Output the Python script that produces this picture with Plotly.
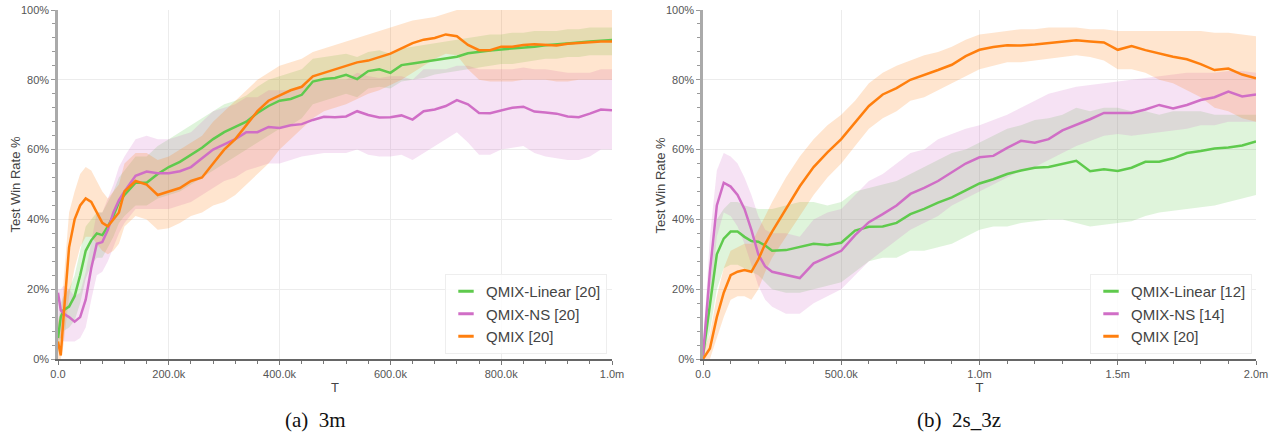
import plotly.graph_objects as go

# ---------------- data: 3m (T in thousands, win rate in %) ----------------
T_3M_K = [0, 5, 10, 20, 30, 40, 50, 60, 70, 80, 90, 100, 110, 120,
          140, 160, 180, 200, 220, 240, 260, 280, 300, 320, 340, 360, 380, 400,
          420, 440, 460, 480, 500, 520, 540, 560, 580, 600, 620, 640, 660, 680,
          700, 720, 740, 760, 780, 800, 820, 840, 860, 880, 900, 920, 940, 960,
          980, 1000]

LIN_3M = [6, 12, 14, 15, 18, 24, 31, 34, 36, 35.5, 38, 41, 45, 47,
          50.5, 50.5, 53, 55, 56.5, 58.5, 60.5, 63, 65, 66.5, 68, 70.5, 72.5, 74,
          74.5, 75.7, 79.5, 80.2, 80.5, 81.4, 80.2, 82.5, 83, 82, 84.2, 84.7, 85.2, 85.7,
          86, 86.6, 87.6, 88.1, 88.4, 88.7, 88.9, 89.3, 89.5, 89.9, 90.1, 90.4, 90.7, 91,
          91.2, 91.4]
LIN_3M_LO = [2, 6, 8, 9, 11, 16, 23, 27, 29, 29, 32, 35, 39, 41,
             44, 44, 46, 47, 48, 50, 52, 54, 56, 58, 60, 62, 64, 66,
             67, 69, 73, 74, 75, 76, 75, 77.5, 78, 77.5, 79.5, 80, 80.5, 81.5,
             82, 82.5, 83, 83.5, 84, 84.5, 84.5, 85, 85.5, 86, 86, 86.5, 86.5, 87,
             87, 87]
LIN_3M_HI = [10, 16, 18, 20, 24, 31, 38, 40, 42, 42, 45, 48, 52, 54,
             58, 58, 61, 63, 65, 67, 69, 71, 73, 74, 75.5, 78, 80, 81,
             82, 83, 86, 86.5, 87, 87.5, 86.5, 88, 88.5, 87.5, 89, 89.5, 90, 90.5,
             91, 91.5, 92, 92.5, 93, 93, 93.5, 93.5, 94, 94, 94, 94.5, 94.5, 95,
             95, 95]

NS_3M = [19, 14, 13, 12, 10.7, 12, 17, 26, 33, 33.5, 37, 42, 45.5, 48,
         52.5, 53.7, 53.2, 53.2, 53.8, 55, 57.5, 60, 61.5, 63, 65, 65, 66.5, 66.2,
         67, 67.3, 68.5, 69.4, 69.3, 69.5, 71, 69.9, 69.2, 69.3, 69.8, 68.6, 71, 71.5,
         72.5, 74.2, 73, 70.5, 70.4, 71.3, 72, 72.3, 70.9, 70.6, 70.3, 69.5, 69.3, 70.3,
         71.5, 71.3]
NS_3M_LO = [5, 6, 5, 5, 5, 6, 9, 17, 24, 25, 28, 32, 36, 39,
            43, 43, 43, 43, 44, 45, 47, 49, 51, 52, 54, 55, 56, 56,
            57, 58, 58.5, 59, 59, 59, 60, 58.5, 58, 58, 58.5, 57, 59, 61,
            63, 65, 62, 58.5, 58.5, 60, 60.5, 61, 59, 58, 57.5, 57, 57, 58,
            60, 60]
NS_3M_HI = [20, 20, 21, 20, 18, 19, 25, 34, 42, 42, 46, 50, 55, 58,
            63, 64, 63, 63, 64, 65, 68, 71, 72, 73, 75, 75, 77, 77,
            77, 78, 79, 80, 80, 80, 82, 81, 80.5, 81, 81, 80, 83, 83,
            83, 84, 84, 83, 83, 83, 83, 83.5, 83, 83, 82.5, 82, 82, 82,
            83, 83]

QMIX_3M = [5, 1, 12, 32, 40, 44, 46, 45, 42, 39, 38, 40, 42, 48,
           51, 50, 47, 48, 49, 51, 52, 56, 60, 63, 67, 71, 74, 75.5,
           77, 78, 81, 82, 83, 84, 85, 85.5, 86.5, 87.5, 89, 90.5, 91.5, 92,
           93, 92.5, 90, 88.5, 88.5, 89.5, 89.5, 90, 90.2, 90, 89.8, 90.3, 90.6, 90.8,
           91, 91]
QMIX_3M_LO = [0, 0, 4, 18, 26, 32, 35, 35, 33, 31, 30, 31, 33, 38,
              41, 40, 37, 37.5, 39, 41, 42, 44, 45, 47, 50, 53, 56, 60,
              63, 66, 69, 71, 72, 73, 74.5, 76, 77, 78.5, 80, 82, 84, 86,
              87.5, 87, 83, 80, 79.5, 79.5, 79.5, 80, 80, 80, 79.5, 79.5, 80, 80,
              80, 80]
QMIX_3M_HI = [12, 8, 22, 42, 48, 53, 55, 54, 51, 48, 46, 48, 50, 56,
              59, 59, 57, 58, 60, 62, 64, 68, 71, 74, 77, 80, 82, 84,
              85, 86, 88, 89, 90, 91, 92, 93, 94, 95, 96, 97, 97.5, 98,
              99, 100, 100, 100, 100, 100, 100, 100, 100, 100, 100, 100, 100, 100,
              100, 100]

# ---------------- data: 2s_3z ----------------
T_2S3Z_K = [0, 25, 50, 75, 100, 125, 150, 175, 200, 225, 250,
            300, 350, 400, 450, 500, 550, 600, 650, 700, 750, 800, 850, 900, 950,
            1000, 1050, 1100, 1150, 1200, 1250, 1300, 1350, 1400, 1450, 1500, 1550,
            1600, 1650, 1700, 1750, 1800, 1850, 1900, 1950, 2000]

LIN_2S3Z = [1, 15, 30, 34.5, 36.5, 36.5, 35, 33.8, 33.6, 32.5, 31,
            31.2, 32.2, 33, 32.7, 33.3, 36.8, 37.9, 38, 39, 41.5, 43, 44.8, 46.3, 48.3,
            50.3, 51.5, 53, 54, 54.8, 55, 56, 56.8, 53.8, 54.4, 53.9, 54.8,
            56.5, 56.5, 57.5, 59, 59.6, 60.3, 60.6, 61.2, 62.3]
LIN_2S3Z_LO = [0, 8, 20, 26, 27, 27, 26, 25, 24, 22, 20,
               19, 19, 20, 21, 22, 25, 28, 29, 29, 31, 31, 32, 33, 35,
               37, 38, 38, 39, 39.5, 40, 40, 39, 38, 38.5, 39, 39.5,
               41, 42, 42.5, 43, 43.5, 44, 45, 46, 47]
LIN_2S3Z_HI = [3, 22, 40, 43, 45, 45, 44, 43.5, 43, 43, 43,
               44, 45, 45, 44, 45, 48, 49, 50, 51, 53, 55, 57, 59, 60,
               62, 64, 66, 67, 68.5, 69, 70, 72, 71, 72, 72, 71,
               71, 70, 71, 71, 71, 70, 70, 70, 70]

NS_2S3Z = [1, 25, 44, 50.5, 49.4, 47, 43, 37, 30, 26.5, 25,
           24.1, 23.2, 27.4, 29.3, 31, 35.5, 39.2, 41.5, 44, 47.3, 49, 51, 53.5, 56,
           57.8, 58.2, 60.5, 62.5, 62, 63, 65.5, 67, 68.7, 70.5, 70.6, 70.5,
           71.5, 72.8, 71.8, 72.8, 74.2, 75, 76.6, 75.2, 75.8]
NS_2S3Z_LO = [0, 15, 35, 42, 41, 38, 33, 27, 21, 17, 15,
              13, 13, 16, 18, 20, 24, 28, 31, 34, 37, 39, 41, 44, 46,
              48, 50, 52, 54, 55, 57, 59, 61, 62.5, 64, 64.5, 64,
              64.5, 65, 65.5, 66, 67, 67, 68, 68, 68]
NS_2S3Z_HI = [3, 35, 54, 59, 58, 56, 52, 47, 41, 37, 36,
              36, 35, 40, 42, 43, 47, 51, 53, 56, 59, 60, 63, 64.5, 66,
              67, 68.5, 70, 72, 74, 76, 77, 78, 78.5, 79, 79.5, 80,
              80.5, 81, 81.5, 82, 82, 82, 82.5, 82.5, 82]

QMIX_2S3Z = [0, 3, 12, 19, 24, 25, 25.5, 25, 28.5, 33, 36.5,
             43, 49.5, 55, 59.2, 63, 67.8, 72.5, 75.8, 77.6, 80, 81.3, 82.8, 84.3, 86.8,
             88.6, 89.4, 89.9, 89.8, 90.1, 90.5, 91, 91.3, 91, 90.7, 88.6, 89.7,
             88.5, 87.5, 86.6, 85.9, 84.5, 82.8, 83.2, 81.5, 80.4]
QMIX_2S3Z_LO = [0, 0, 6, 12, 17, 18, 18, 17, 20, 25, 29,
                35, 41, 47, 52, 56, 61, 66, 69, 71, 74, 75, 77, 79, 81,
                83, 84, 85, 85, 85.5, 86, 86.5, 87, 86.5, 85.5, 83, 83,
                82, 80, 79, 77, 75, 72, 71, 69, 68]
QMIX_2S3Z_HI = [2, 7, 18, 26, 31, 32, 33, 33, 37, 41, 45,
                52, 58, 63, 67, 70, 74, 79, 82, 84, 85.5, 87, 88, 89.5, 91.5,
                93, 93.5, 94, 94.5, 94.5, 95, 95, 95, 94.5, 94.5, 94, 94,
                94, 94, 94, 94, 94, 93.5, 93.5, 93, 92.5]

X_TICKS_3M = [0, 200000, 400000, 600000, 800000, 1000000]
X_TEXT_3M = ["0.0", "200.0k", "400.0k", "600.0k", "800.0k", "1.0m"]
X_TICKS_2S3Z = [0, 500000, 1000000, 1500000, 2000000]
X_TEXT_2S3Z = ["0.0", "500.0k", "1.0m", "1.5m", "2.0m"]
Y_TICKS = [0, 20, 40, 60, 80, 100]
Y_TEXT = ["0%", "20%", "40%", "60%", "80%", "100%"]

LEGEND_3M = ["QMIX-Linear [20]", "QMIX-NS [20]", "QMIX [20]"]
LEGEND_2S3Z = ["QMIX-Linear [12]", "QMIX-NS [14]", "QMIX [20]"]
CAPTIONS = ["(a)\u00a0\u00a03m", "(b)\u00a0\u00a02s_3z"]
Y_TITLE = "Test Win Rate %"
X_TITLE = "T"

# ---------------- styling ----------------
COLORS = ["#5fca4d", "#d06ec6", "#ff7f0e"]
FILLS = ["rgba(95,202,77,0.2)", "rgba(208,110,198,0.2)", "rgba(255,127,14,0.2)"]
FONT = "Liberation Sans, Arial, sans-serif"

W, H = 1274, 435


def fx(px):
    return px / W


def fy(py):
    return 1 - py / H


DOMAINS_X = [(fx(58), fx(612)), (fx(703), fx(1256))]
DOMAIN_Y = (fy(359), fy(10))

fig = go.Figure()

panels = [
    (T_3M_K, [(LIN_3M, LIN_3M_LO, LIN_3M_HI), (NS_3M, NS_3M_LO, NS_3M_HI),
              (QMIX_3M, QMIX_3M_LO, QMIX_3M_HI)], LEGEND_3M),
    (T_2S3Z_K, [(LIN_2S3Z, LIN_2S3Z_LO, LIN_2S3Z_HI), (NS_2S3Z, NS_2S3Z_LO, NS_2S3Z_HI),
                (QMIX_2S3Z, QMIX_2S3Z_LO, QMIX_2S3Z_HI)], LEGEND_2S3Z),
]

for p, (tk, series, names) in enumerate(panels):
    xa = "x" if p == 0 else "x2"
    ya = "y" if p == 0 else "y2"
    leg = "legend" if p == 0 else "legend2"
    t = [v * 1000 for v in tk]
    for (m, lo, hi), fc in zip(series, FILLS):
        assert len(m) == len(t) and len(lo) == len(t) and len(hi) == len(t)
        fig.add_trace(go.Scatter(
            x=t + t[::-1], y=hi + lo[::-1], fill="toself", fillcolor=fc,
            line=dict(width=0), mode="lines", hoverinfo="skip",
            showlegend=False, xaxis=xa, yaxis=ya))
    for (m, lo, hi), c, n in zip(series, COLORS, names):
        fig.add_trace(go.Scatter(
            x=t, y=m, mode="lines", line=dict(color=c, width=2.5),
            name=n, showlegend=False, legendgroup=f"{p}{n}", xaxis=xa, yaxis=ya))
    for c, n in zip(COLORS, names):
        fig.add_trace(go.Scatter(
            x=[None], y=[None], mode="markers", name=n, legend=leg,
            legendgroup=f"{p}{n}",
            marker=dict(symbol="line-ew-open", size=11, color=c,
                        line=dict(color=c, width=3)),
            xaxis=xa, yaxis=ya))

grid = "#ececec"
common_y = dict(
    range=[0, 100], domain=DOMAIN_Y, tickmode="array", tickvals=Y_TICKS, ticktext=Y_TEXT,
    showgrid=True, gridcolor=grid, gridwidth=1, automargin=False,
    zeroline=False, showline=True, linecolor="#aaaaaa", linewidth=2.5,
    ticks="outside", ticklen=4, tickcolor="#999999",
    tickfont=dict(family=FONT, size=11, color="#555555"),
    minor=dict(dtick=4, tick0=0, ticks="outside", ticklen=3, tickcolor="#999999", showgrid=False),
)
common_x = dict(
    showgrid=True, gridcolor=grid, gridwidth=1, zeroline=False, automargin=False,
    showline=True, linecolor="#666666", linewidth=1.5,
    ticks="outside", ticklen=4, tickcolor="#777777",
    tickfont=dict(family=FONT, size=11, color="#555555"),
    title=dict(text=X_TITLE, font=dict(family=FONT, size=13, color="#444444"), standoff=4),
)

fig.update_layout(
    width=W, height=H, margin=dict(l=0, r=0, t=0, b=0, autoexpand=False),
    paper_bgcolor="white", plot_bgcolor="white",
    xaxis=dict(common_x, domain=DOMAINS_X[0], range=[0, 1000000], anchor="y",
               tickmode="array", tickvals=X_TICKS_3M, ticktext=X_TEXT_3M,
               minor=dict(dtick=40000, tick0=0, ticks="outside", ticklen=3,
                          tickcolor="#777777", showgrid=False)),
    xaxis2=dict(common_x, domain=DOMAINS_X[1], range=[0, 2000000], anchor="y2",
                tickmode="array", tickvals=X_TICKS_2S3Z, ticktext=X_TEXT_2S3Z,
                minor=dict(dtick=100000, tick0=0, ticks="outside", ticklen=3,
                           tickcolor="#777777", showgrid=False)),
    yaxis=dict(common_y, anchor="x"),
    yaxis2=dict(common_y, anchor="x2"),
    legend=dict(x=fx(607), y=fy(354), xanchor="right", yanchor="bottom",
                bgcolor="rgba(255,255,255,0.85)", bordercolor="#eeeeee", borderwidth=1,
                font=dict(family=FONT, size=15, color="#444444"),
                itemwidth=30, tracegroupgap=0),
    legend2=dict(x=fx(1252), y=fy(354), xanchor="right", yanchor="bottom",
                 bgcolor="rgba(255,255,255,0.85)", bordercolor="#eeeeee", borderwidth=1,
                 font=dict(family=FONT, size=15, color="#444444"),
                 itemwidth=30, tracegroupgap=0),
    showlegend=True,
)

# y-axis titles (placed just left of the tick labels)
for tx in [15, 660]:
    fig.add_annotation(text=Y_TITLE, x=fx(tx), y=(DOMAIN_Y[0] + DOMAIN_Y[1]) / 2,
                       xref="paper", yref="paper", textangle=-90,
                       xanchor="center", yanchor="middle", showarrow=False,
                       font=dict(family=FONT, size=13, color="#444444"))

for cap, cx in zip(CAPTIONS, [315, 959]):
    fig.add_annotation(text=cap, x=fx(cx), y=fy(420), xref="paper", yref="paper",
                       xanchor="center", yanchor="middle", showarrow=False,
                       font=dict(family="Liberation Serif, Times New Roman, serif",
                                 size=21, color="#111111"))

# remove the default 8px page margin so the 1274x435 figure fills the window exactly
fig.write_html("out.html",
               config={"displayModeBar": False},
               post_script="document.body.style.margin='0px';"
                           "document.body.style.overflow='hidden';")
